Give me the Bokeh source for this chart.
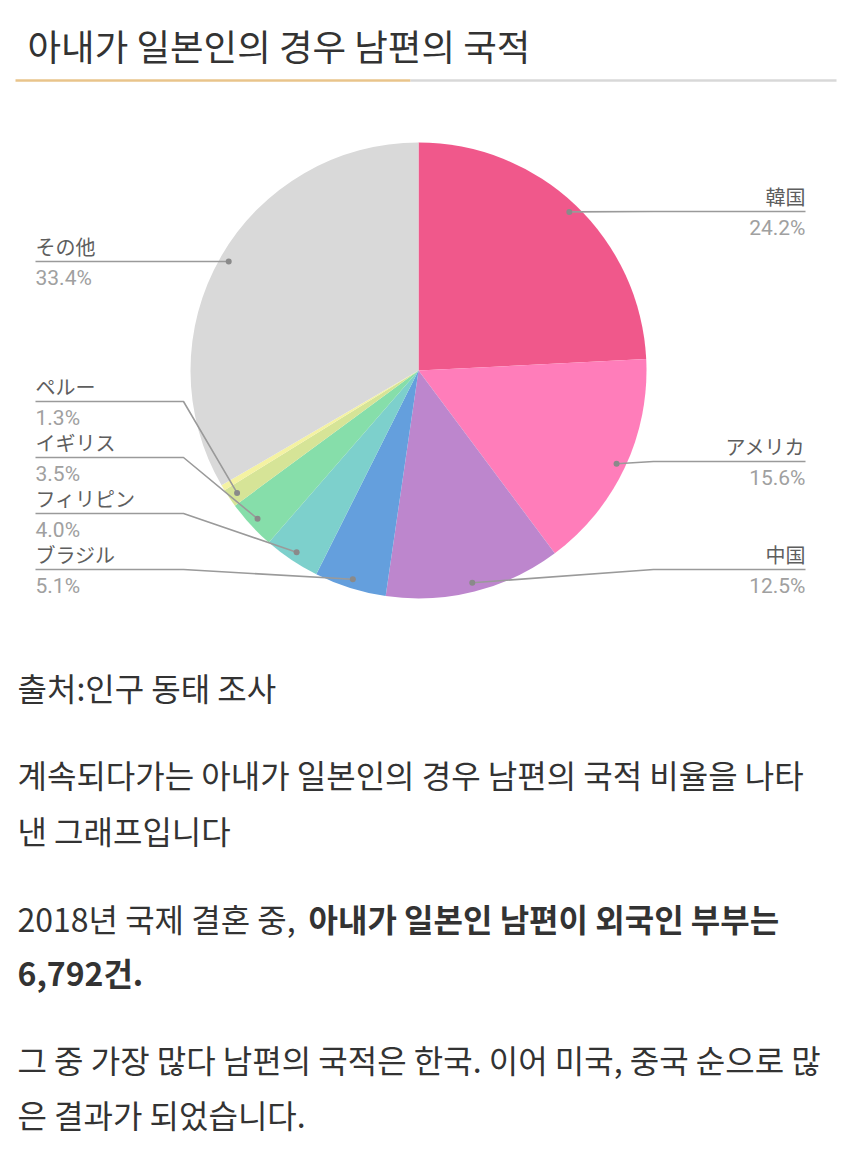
import numpy as np
from bokeh.plotting import figure
from bokeh.models import Range1d, ColumnDataSource
from bokeh.core.properties import value
from bokeh.embed import file_html
from bokeh.resources import INLINE

# ---- data ----
countries = ["韓国", "アメリカ", "中国", "ブラジル", "フィリピン", "イギリス", "ペルー", "", "その他"]
shares = [24.2, 15.6, 12.5, 5.1, 4.0, 3.5, 1.3, 0.4, 33.4]
colors = ["#F0588B", "#FF7DBA", "#BD86CD", "#649FDD", "#7DD0CC", "#86DEAA", "#D6E497", "#F4F2A2", "#D9D9D9"]

title = "아내가 일본인의 경우 남편의 국적"
body_lines = [
    "출처:인구 동태 조사",
    "계속되다가는 아내가 일본인의 경우 남편의 국적 비율을 나타",
    "낸 그래프입니다",
]
line4_normal = "2018년 국제 결혼 중,"
line4_bold = "아내가 일본인 남편이 외국인 부부는"
line5_bold = "6,792건."
body_tail = [
    "그 중 가장 많다 남편의 국적은 한국. 이어 미국, 중국 순으로 많",
    "은 결과가 되었습니다.",
]

# ---- layout ----
W, H = 850, 1156
def Y(v):
    return H - np.asarray(v, dtype=float)

cx, cy, R = 418, 370, 228
label_line_y = [211, 461, 569, 569, 513, 457, 401, None, 261]
label_side = ["R", "R", "R", "L", "L", "L", "L", None, "L"]
R_END, R_BEND = 805, 653
L_START, L_BEND = 35, 183

p = figure(width=W, height=H, x_range=Range1d(0, W), y_range=Range1d(0, H),
           output_backend="svg", toolbar_location=None, min_border=0,
           x_axis_location=None, y_axis_location=None)
p.grid.visible = False
p.outline_line_color = None
p.background_fill_color = "white"
p.border_fill_color = "white"

# ---- title + underline ----
p.text(x=[27], y=Y([45]), text=[title], text_font=value("Noto Sans CJK KR"),
       text_font_size="36.5px", text_color="#333333", text_baseline="middle", text_align="left")
p.line(x=[15, 410], y=Y([80, 80]), line_color="#E9C48B", line_width=2.5)
p.line(x=[410, 836], y=Y([80, 80]), line_color="#D8D8D8", line_width=2.5)

# ---- pie ----
vals = np.array(shares, dtype=float)
frac = vals / vals.sum()
cum_end = np.cumsum(frac)
cum_start = cum_end - frac
start_angle = np.pi / 2 - 2 * np.pi * cum_end
end_angle = np.pi / 2 - 2 * np.pi * cum_start
src = ColumnDataSource(dict(start=start_angle, end=end_angle, color=colors))
p.wedge(x=cx, y=H - cy, radius=R, start_angle="start", end_angle="end",
        direction="anticlock", fill_color="color", line_color=None, source=src)

# ---- leader lines and labels ----
mid = 2 * np.pi * (cum_start + cum_end) / 2
dot_x = cx + 0.96 * R * np.sin(mid)
dot_y = cy - 0.96 * R * np.cos(mid)

for i, name in enumerate(countries):
    side = label_side[i]
    if side is None:
        continue
    ly = label_line_y[i]
    if side == "R":
        xs = [dot_x[i], max(R_BEND, dot_x[i]), R_END]
        ys = [dot_y[i], ly, ly]
        tx, align = R_END, "right"
    else:
        xs = [L_START, L_BEND, dot_x[i]]
        ys = [ly, ly, dot_y[i]]
        tx, align = L_START, "left"
    p.line(x=xs, y=Y(ys), line_color="#9A9A9A", line_width=1.6)
    p.scatter(x=[dot_x[i]], y=Y([dot_y[i]]), size=6, fill_color="#8A8A8A", line_color=None)
    p.text(x=[tx], y=Y([ly - 15]), text=[name], text_font=value("Noto Sans CJK JP"),
           text_font_size="20px", text_color="#5E5E5E", text_baseline="middle", text_align=align)
    p.text(x=[tx], y=Y([ly + 16]), text=[f"{shares[i]}%"], text_font=value("Roboto"),
           text_font_size="21px", text_color="#A0A0A0", text_baseline="middle", text_align=align)

# ---- body text ----
def body(x, y, t, bold=False):
    p.text(x=[x], y=Y([y]), text=[t], text_font=value("Noto Sans CJK KR"),
           text_font_size="32px", text_color="#333333", text_baseline="middle",
           text_align="left", text_font_style="bold" if bold else "normal")

body(17, 686, body_lines[0])
body(17, 773, body_lines[1])
body(17, 829, body_lines[2])
body(17, 917, line4_normal)
body(308, 917, line4_bold, bold=True)
body(17, 971, line5_bold, bold=True)
body(17, 1058, body_tail[0])
body(17, 1113, body_tail[1])

open("out.html", "w").write(file_html(p, INLINE))
